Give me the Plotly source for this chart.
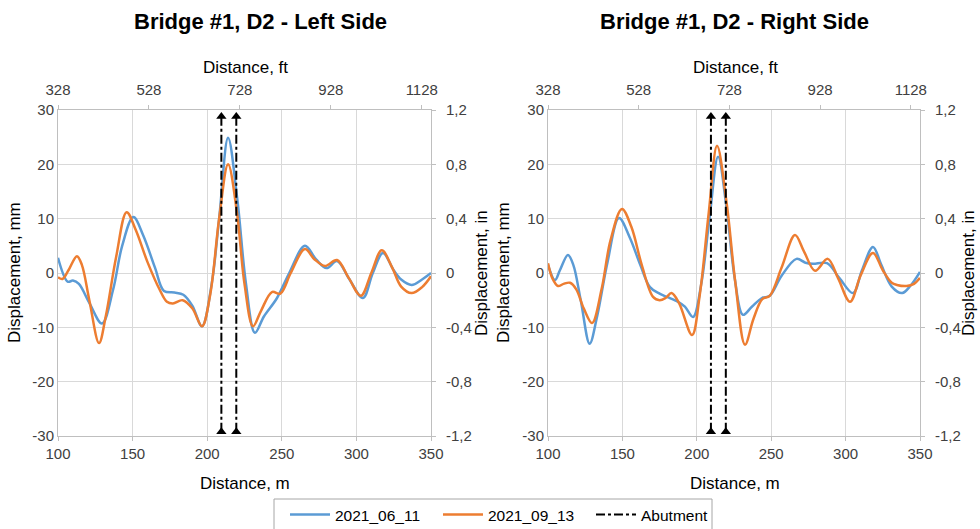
import plotly.graph_objects as go

# ---------------- data ----------------
left_blue_x = [100, 106.5, 110, 114, 121, 129.5, 137, 143, 150.5, 157, 165, 171, 178, 184, 190, 196.5,
               203, 208, 214, 220, 226, 232, 238, 246.8, 255, 265.5, 273, 280, 287, 295, 304.4, 311,
               317.8, 325, 330, 337, 344, 350]
left_blue_y = [2.8, -1.6, -1.4, -2.0, -5.5, -9.3, -3, 5, 10.3, 7, 1, -3.3, -3.6, -4.0, -6, -9.8,
               -2, 10, 24.9, 14, -2, -11, -8, -4.6, 0, 5.0, 2.5, 0.9, 2.2, -1, -4.6, 0,
               3.7, 0.5, -1.2, -2.2, -1.2, 0]

left_orange_x = [100, 103, 107, 112.7, 116, 121, 127.5, 132, 139, 146, 152, 160, 168, 173, 177, 183.5,
                 190, 196.5, 202, 208, 214, 220, 225, 230.7, 236, 243.4, 249, 256, 265.5, 272, 279,
                 287, 295, 303, 310, 317, 324, 330, 337, 344, 350]
left_orange_y = [-0.8, -1.1, 0.5, 3.1, 1.5, -5, -12.9, -8, 3, 11.2, 8, 2, -3, -5.3, -5.6, -5.0,
                 -6.5, -9.8, -4, 10, 20, 11, -2, -9.8, -7, -3.5, -3.8, 0, 4.4, 2.5, 1.3,
                 2.4, -1, -4.2, 0, 4.2, 1, -2.5, -3.7, -2.6, -0.6]

right_blue_x = [100, 104.7, 108, 113.4, 117, 122, 128, 133, 140, 147.7, 155, 162, 168.5, 175, 180,
                187.4, 192, 197.5, 203, 208.5, 214.3, 220, 225.5, 231, 237, 243.8, 249, 257, 267,
                273, 278, 287.5, 296, 305, 311, 318.4, 324, 331, 338, 344, 350]
right_blue_y = [1.5, -1.3, 0.5, 3.3, 1.5, -5, -13, -8, 2, 10.1, 6.5, 1.5, -2.6, -3.8, -4.4,
                -5.3, -6.2, -8.1, -2, 10, 21.4, 12, -1, -7.7, -6.2, -4.6, -4.2, -0.5, 2.6,
                1.9, 1.7, 1.8, -1, -3.7, 0.5, 4.8, 1.5, -2.5, -3.7, -2.2, 0.2]

right_orange_x = [100, 103, 106.7, 110.5, 114.8, 119, 124, 129.6, 136, 142, 149.7, 156, 163, 170.6,
                  175, 179, 183, 188, 196.8, 202, 208, 213.6, 220, 226, 232.4, 238, 244, 249, 257,
                  266, 272, 279.5, 288, 295, 303, 310, 318.4, 325, 331, 334.5, 341, 346, 350]
right_orange_y = [1.8, -1, -2.4, -2.0, -1.8, -3, -6.5, -9.2, -3, 6, 11.8, 8.5, 1.5, -4.4,
                  -5.0, -4.6, -3.7, -5.5, -11.4, -4, 11, 23.4, 13, -2, -13.2, -8.5, -4.8, -4.2, 1,
                  7.0, 4, 0.4, 2.6, -1, -5.3, -0.5, 3.7, 0.5, -1.8, -2.2, -2.4, -2.0, -0.9]

abutments_m = [209.5, 219.5]
abut_y = [-29.2, 28.8]

series_names = ["2021_06_11", "2021_09_13", "Abutment"]
titles = ["Bridge #1, D2 - Left Side", "Bridge #1, D2 - Right Side"]

m_ticks = [100, 150, 200, 250, 300, 350]
ft_ticks = [328, 528, 728, 928, 1128]
mm_ticks = [-30, -20, -10, 0, 10, 20, 30]
mm_text = ["-30", "-20", "-10", "0", "10", "20", "30"]
in_ticks = [-1.2, -0.8, -0.4, 0, 0.4, 0.8, 1.2]
in_text = ["-1,2", "-0,8", "-0,4", "0", "0,4", "0,8", "1,2"]

M_RANGE = [100, 350]
FT_RANGE = [327.99, 350 / 0.3048]

BLUE = "#5B9BD5"
ORANGE = "#ED7D31"
GRID = "#d9d9d9"
AXC = "#bfbfbf"
TXT = "#404040"
FONT = "Liberation Sans, Arial, sans-serif"

fig = go.Figure()

panels = [
    ("x", "y", "x2", "y2", left_blue_x, left_blue_y, left_orange_x, left_orange_y, True),
    ("x3", "y3", "x4", "y4", right_blue_x, right_blue_y, right_orange_x, right_orange_y, False),
]

for xa, ya, xa2, ya2, bx, by, ox, oy, show in panels:
    fig.add_trace(go.Scatter(x=bx, y=by, xaxis=xa, yaxis=ya, mode="lines",
                             line=dict(color=BLUE, width=2.5, shape="spline", smoothing=1.0),
                             name=series_names[0], legendgroup="b", showlegend=show))
    fig.add_trace(go.Scatter(x=ox, y=oy, xaxis=xa, yaxis=ya, mode="lines",
                             line=dict(color=ORANGE, width=2.5, shape="spline", smoothing=1.0),
                             name=series_names[1], legendgroup="o", showlegend=show))
    for a in abutments_m:
        fig.add_trace(go.Scatter(x=[a, a], y=abut_y, xaxis=xa, yaxis=ya, mode="lines+markers",
                                 line=dict(color="black", width=2, dash="dashdot"),
                                 marker=dict(symbol="triangle-up", size=9, color="black"),
                                 name=series_names[2], legendgroup="a", showlegend=False))
    if show:
        fig.add_trace(go.Scatter(x=[None], y=[None], xaxis=xa, yaxis=ya, mode="lines",
                                 line=dict(color="black", width=2, dash="dashdot"),
                                 name=series_names[2], legendgroup="a", showlegend=True))
    # dummy trace to activate secondary axes
    fig.add_trace(go.Scatter(x=[None], y=[None], xaxis=xa2, yaxis=ya2, mode="lines",
                             showlegend=False, hoverinfo="skip"))

YDOM = [1 - 436 / 529, 1 - 110 / 529]
XDOM_L = [58 / 980, 431 / 980]
XDOM_R = [548 / 980, 920 / 980]

tickfont = dict(family=FONT, size=15, color=TXT)
common = dict(automargin=False, zeroline=False, showline=True, linecolor=AXC, linewidth=1,
              tickcolor=AXC, tickfont=tickfont, fixedrange=True)

def xbottom(dom, anchor):
    return dict(domain=dom, anchor=anchor, range=M_RANGE, tickmode="array", tickvals=m_ticks,
                showgrid=True, gridcolor=GRID, ticks="outside", ticklen=4, **common)

def xtop(over, anchor):
    return dict(overlaying=over, anchor=anchor, side="top", range=FT_RANGE, tickmode="array",
                tickvals=ft_ticks, showgrid=False, ticks="outside", ticklen=4,
                ticklabelstandoff=4, **common)

def yleft(anchor):
    return dict(domain=YDOM, anchor=anchor, range=[-30, 30], tickmode="array", tickvals=mm_ticks,
                ticktext=mm_text, showgrid=True, gridcolor=GRID, ticks="", **common)

def yright(over, anchor):
    return dict(overlaying=over, anchor=anchor, side="right", range=[-1.2, 1.2], tickmode="array",
                tickvals=in_ticks, ticktext=in_text, showgrid=False, ticks="outside", ticklen=4,
                ticklabelstandoff=7, **common)

fig.update_layout(
    xaxis=xbottom(XDOM_L, "y"), xaxis2=xtop("x", "y"),
    yaxis=yleft("x"), yaxis2=yright("y", "x"),
    xaxis3=xbottom(XDOM_R, "y3"), xaxis4=xtop("x3", "y3"),
    yaxis3=yleft("x3"), yaxis4=yright("y3", "x3"),
)

ann = []
axfont = dict(family=FONT, size=17, color="black")
for tx, cx, title, ymm_x, yin_x in [(260, 245, titles[0], 14, 481), (734, 735, titles[1], 503, 968)]:
    base = dict(xref="paper", yref="paper", showarrow=False, xanchor="center", yanchor="middle")
    ann.append(dict(text="<b>" + title + "</b>", x=tx / 980, y=1 - 22 / 529,
                    font=dict(family=FONT, size=22, color="black"), **base))
    ann.append(dict(text="Distance, ft", x=cx / 980, y=1 - 67 / 529, font=axfont, **base))
    ann.append(dict(text="Distance, m", x=cx / 980, y=1 - 483 / 529, font=axfont, **base))
    ann.append(dict(text="Displacement, mm", x=ymm_x / 980, y=1 - 273 / 529, textangle=-90,
                    font=axfont, **base))
    ann.append(dict(text="Displacement, in", x=yin_x / 980, y=1 - 273 / 529, textangle=-90,
                    font=axfont, **base))

# legend frame
shapes = [dict(type="rect", xref="paper", yref="paper", x0=274 / 980, x1=712 / 980,
               y0=-0.05, y1=1 - 499 / 529, line=dict(color="#a6a6a6", width=1),
               fillcolor="rgba(0,0,0,0)", layer="below")]

fig.update_layout(
    template="none",
    annotations=ann,
    shapes=shapes,
    width=980, height=529,
    margin=dict(l=0, r=0, t=0, b=0, autoexpand=False),
    paper_bgcolor="white", plot_bgcolor="white",
    font=dict(family=FONT, size=14, color=TXT),
    showlegend=True,
    legend=dict(orientation="h", x=285 / 980, xanchor="left", y=1 - 498 / 529, yanchor="top",
                borderwidth=0, bgcolor="rgba(0,0,0,0)",
                font=dict(family=FONT, size=15.5, color="black"),
                itemwidth=40, entrywidth=98, tracegroupgap=0),
)

fig.write_html("out.html", config={"displayModeBar": False, "staticPlot": True},
               post_script="document.body.style.margin='0';document.body.style.overflow='hidden';")
